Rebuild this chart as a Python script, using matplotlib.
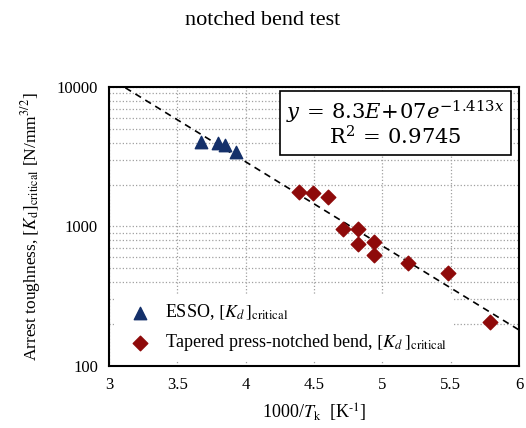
import numpy as np
import matplotlib.pyplot as plt
from matplotlib.ticker import FixedLocator, LogLocator, NullFormatter

# data
esso_x = [3.67, 3.80, 3.85, 3.93]
esso_k = [4050, 4000, 3850, 3400]
bend_x = [4.39, 4.49, 4.60, 4.71, 4.82, 4.82, 4.94, 4.94, 5.19, 5.48, 5.79]
bend_k = [1780, 1730, 1620, 960, 960, 745, 775, 625, 550, 465, 205]

# trend line
fit_a = 7.5e5
fit_b = 1.388
fit_x = [3.12, 6.0]

plt.rcParams['font.family'] = ['Liberation Serif', 'DejaVu Serif']
plt.rcParams['mathtext.fontset'] = 'stix'

fig = plt.figure(figsize=(5.26, 4.28), dpi=100)
ax = fig.add_axes([0.2072, 0.1449, 0.7795, 0.6518])

xs = np.linspace(fit_x[0], fit_x[1], 50)
ax.plot(xs, fit_a * np.exp(-fit_b * xs), color='black', ls=(0, (4, 3)), lw=1.2, zorder=2)

ax.scatter(esso_x, esso_k, marker='^', s=80, color='#14306A', zorder=3,
           label=r'ESSO, $[K_d\,]_{\rm critical}$')
ax.scatter(bend_x, bend_k, marker='D', s=55, color='#8E0A0A', zorder=3,
           label=r'Tapered press-notched bend, $[K_d\,]_{\rm critical}$')

ax.set_yscale('log')
ax.set_xlim(3, 6)
ax.set_ylim(100, 10000)
ax.xaxis.set_major_locator(FixedLocator([3, 3.5, 4, 4.5, 5, 5.5, 6]))
ax.set_xticklabels(['3', '3.5', '4', '4.5', '5', '5.5', '6'])
ax.yaxis.set_major_locator(FixedLocator([100, 1000, 10000]))
ax.set_yticklabels(['100', '1000', '10000'])
ax.yaxis.set_minor_locator(LogLocator(base=10, subs=np.arange(2, 10)))
ax.yaxis.set_minor_formatter(NullFormatter())
ax.tick_params(which='both', length=0, labelsize=12, pad=8)

ax.grid(True, which='major', color='#a0a0a0', ls=':', lw=0.9)
ax.grid(True, which='minor', axis='y', color='#a0a0a0', ls=':', lw=0.9)
for s in ax.spines.values():
    s.set_linewidth(1.5)

ax.set_xlabel(r'1000/$T_{\rm k}$  [K$^{\text{-}1}$]', fontsize=13, labelpad=6)
ax.set_ylabel(r'Arrest toughness, $[K_{\rm d}]_{\rm critical}$ [N/mm$^{3/2}$]', fontsize=12.5, labelpad=10)
fig.suptitle('notched bend test', fontsize=16, y=0.975)

ax.text(0.698, 0.868, '$y\\,=\\,8.3E\\!+\\!07e^{-1.413x}$\n$\\mathrm{R}^2\\,=\\,0.9745$',
        transform=ax.transAxes, ha='center', va='center', fontsize=15.2, linespacing=1.0,
        math_fontfamily='dejavuserif',
        bbox=dict(boxstyle='square,pad=0.3', facecolor='white', edgecolor='black', lw=1.2),
        zorder=5)

leg = ax.legend(loc='lower left', fontsize=13, frameon=True, framealpha=1, edgecolor='none',
                handletextpad=0.4, borderaxespad=0.3, labelspacing=0.55, scatterpoints=1)
leg.get_frame().set_linewidth(0)

fig.savefig('out.png', dpi=100)
